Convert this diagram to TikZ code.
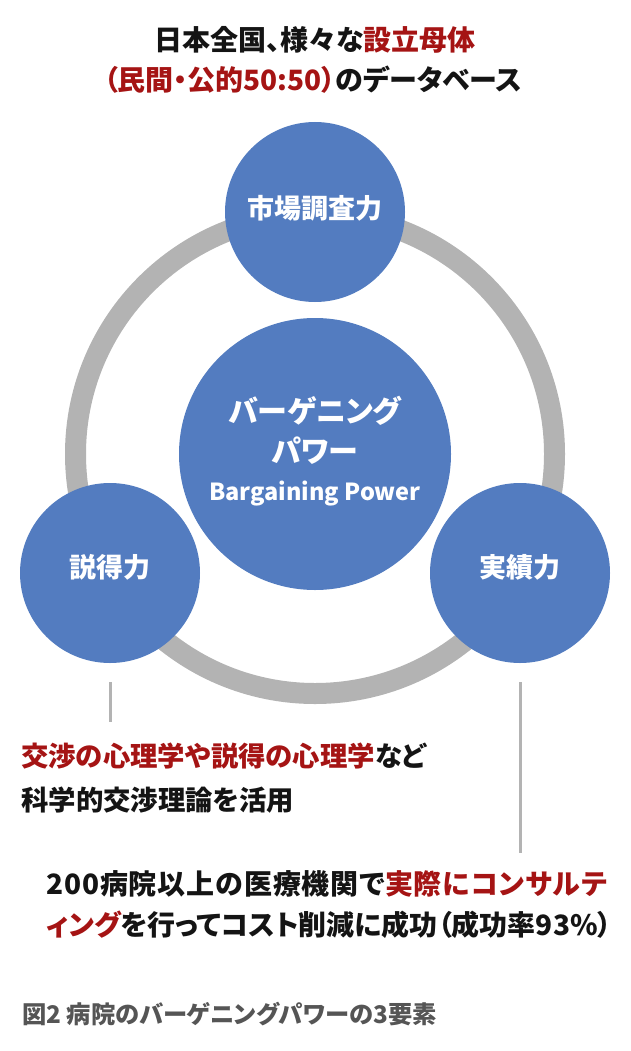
\documentclass[tikz,border=0pt]{standalone}
\usepackage{fontspec}
\setmainfont{Noto Sans CJK JP}[RawFeature=+palt]
\definecolor{cblue}{RGB}{83,124,192}
\definecolor{cgray}{RGB}{179,179,179}
\definecolor{cred}{RGB}{165,20,20}
\definecolor{ctext}{RGB}{20,20,20}
\definecolor{ccap}{RGB}{85,85,85}
\tikzset{
  txt/.style={inner sep=0pt, text height=0.88em, text depth=0.12em, text=ctext},
  bub/.style={circle, fill=cblue, minimum size=180pt, inner sep=0pt},
  bigbub/.style={circle, fill=cblue, minimum size=272pt, inner sep=0pt},
  wlab/.style={txt, text=white, font=\bfseries\fontsize{27}{32}\selectfont},
  ring/.style={draw=cgray, line width=21pt},
  leader/.style={draw=cgray, line width=3pt},
  ftitle/.style={font=\bfseries\fontsize{28}{32}\selectfont},
  fdesc/.style={font=\bfseries\fontsize{27.4}{32}\selectfont},
  fpara/.style={font=\bfseries\fontsize{28}{32}\selectfont},
}
\begin{document}
\begin{tikzpicture}[x=1pt,y=-1pt]
\useasboundingbox (0,0) rectangle (630,1051);
% title
\node[txt,ftitle] (t1) at (315,47) {日本全国、様々な\textcolor{cred}{設立母体}};
\node[txt,ftitle] (t2) at (313,87) {\textcolor{cred}{（民間・公的50:50）}のデータベース};
% ring
\coordinate (rc) at (315,454);
\draw[ring] (rc) circle[radius=239.5];
% bubbles
\node[bub] (mkt) at (315,212) {};
\node[wlab] at ([yshift=-3pt]mkt.center) {市場調査力};
\node[bigbub] (bp) at (rc) {};
\node[wlab, font=\bfseries\fontsize{30}{34}\selectfont] (bp1) at (315,419) {バーゲニング};
\node[wlab, font=\bfseries\fontsize{30}{34}\selectfont] (bp2) at (315,459) {パワー};
\node[wlab, font=\bfseries\fontsize{23.5}{26}\selectfont] (bp3) at (315,497) {Bargaining Power};
\node[bub] (per) at (110,573) {};
\node[wlab] at ([yshift=-1pt]per.center) {説得力};
\node[bub] (rec) at (520,573) {};
\node[wlab] at ([yshift=-1pt]rec.center) {実績力};
% leaders
\coordinate (la) at (110,682);
\coordinate (lb) at (110,722);
\coordinate (ra) at (520,682);
\coordinate (rb) at (520,853);
\draw[leader] (la) -- (lb);
\draw[leader] (ra) -- (rb);
% descriptions
\node[txt,fdesc,anchor=west] (d1) at (21,763) {\textcolor{cred}{交渉の心理学や説得の心理学}など};
\node[txt,fdesc,anchor=west] (d2) at (21,807) {科学的交渉理論を活用};
\node[txt,fpara,anchor=west] (e1) at (46,891) {\addfontfeature{LetterSpace=3.2}200病院以上の医療機関で\textcolor{cred}{実際にコンサルテ}};
\node[txt,fpara,anchor=west] (e2) at (46,932) {\textcolor{cred}{ィング}を行ってコスト削減に成功（成功率93\%）};
% caption
\node[txt,anchor=west,text=ccap,font=\bfseries\fontsize{24.3}{28}\selectfont] (cap) at (22,1020) {図2 病院のバーゲニングパワーの3要素};
\end{tikzpicture}
\end{document}
